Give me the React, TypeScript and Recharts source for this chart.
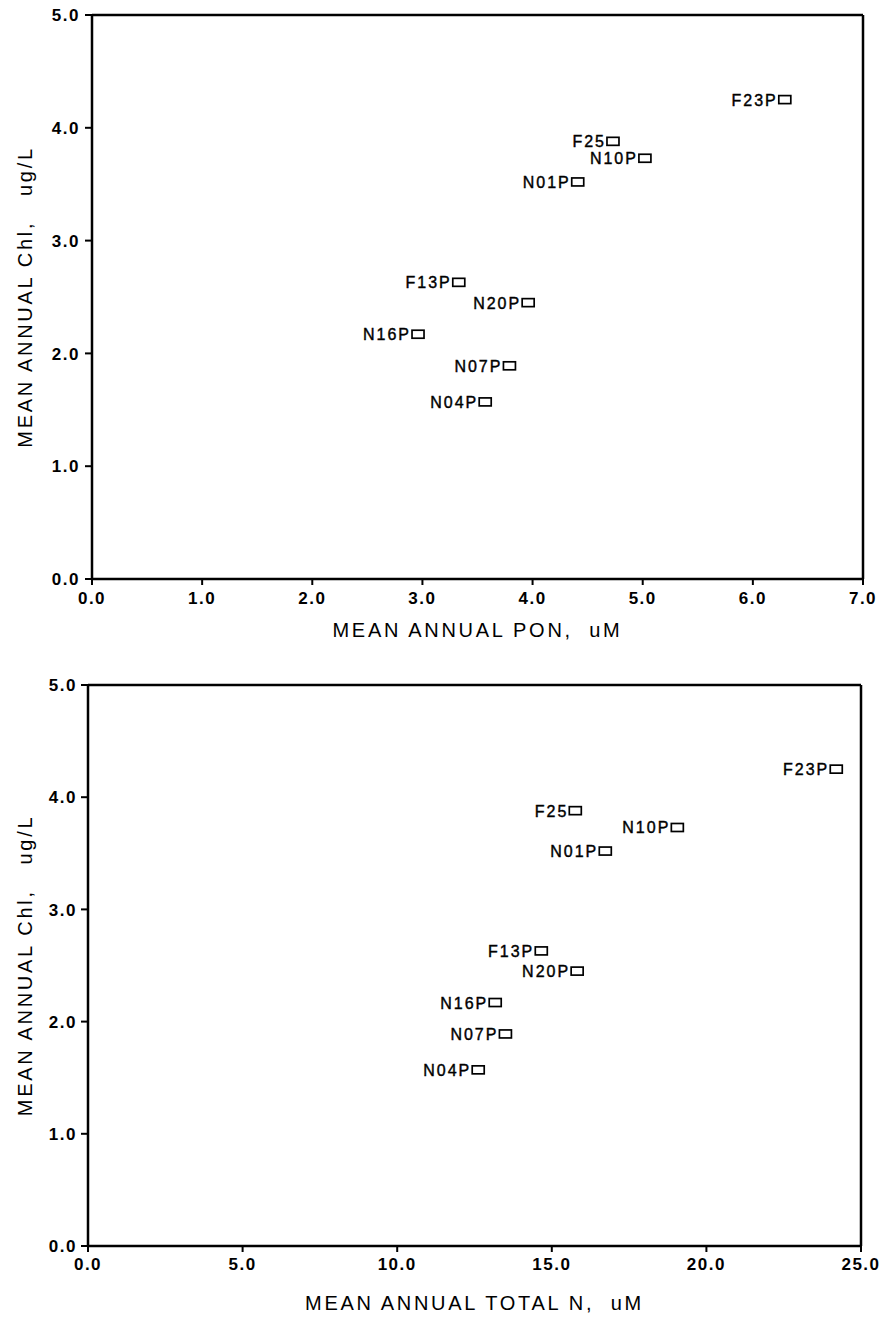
import React from 'react';
import { ScatterChart, Scatter, XAxis, YAxis, ReferenceLine } from 'recharts';

const stations = ['F23P', 'F25', 'N10P', 'N01P', 'F13P', 'N20P', 'N16P', 'N07P', 'N04P'];
const chl = [4.25, 3.88, 3.73, 3.52, 2.63, 2.45, 2.17, 1.89, 1.57];
const pon = [6.29, 4.73, 5.02, 4.41, 3.33, 3.96, 2.96, 3.79, 3.57];
const totalN = [24.2, 15.76, 19.06, 16.73, 14.66, 15.82, 13.17, 13.5, 12.62];

const ponTicks = [0, 1, 2, 3, 4, 5, 6, 7];
const totalNTicks = [0, 5, 10, 15, 20, 25];
const chlTicks = [0, 1, 2, 3, 4, 5];

const ponData = stations.map((name, i) => ({ name, x: pon[i], y: chl[i] }));
const totalNData = stations.map((name, i) => ({ name, x: totalN[i], y: chl[i] }));

const FONT = '"Liberation Sans", Arial, sans-serif';

const Marker = (props: any) => {
  const { cx, cy, payload } = props;
  return (
    <g>
      <text x={cx - 7} y={cy + 6} textAnchor="end" fontFamily={FONT} fontSize={16} letterSpacing={2} fill="#000" stroke="#000" strokeWidth={0.4}>
        {payload.name}
      </text>
      <rect x={cx - 6} y={cy - 4} width={12} height={8} fill="#fff" stroke="#000" strokeWidth={1.7} />
    </g>
  );
};

const XTick = (props: any) => (
  <text x={props.x} y={props.y} dy="0.71em" textAnchor="middle" fontFamily={FONT} fontSize={17} fontWeight="bold" letterSpacing={1.5} fill="#000">
    {Number(props.payload.value).toFixed(1)}
  </text>
);

const YTick = (props: any) => (
  <text x={props.x} y={props.y} dy="0.36em" textAnchor="end" fontFamily={FONT} fontSize={17} fontWeight="bold" letterSpacing={1.5} fill="#000">
    {Number(props.payload.value).toFixed(1)}
  </text>
);

const YTitle = (props: any) => {
  const { viewBox } = props;
  const cy = viewBox.y + viewBox.height / 2;
  return (
    <text x={25} y={cy} transform={`rotate(-90, 25, ${cy})`} textAnchor="middle" dominantBaseline="central" fontFamily={FONT} fontSize={20} letterSpacing={2.7} fill="#000" style={{ whiteSpace: 'pre' }}>
      {'MEAN ANNUAL Chl,   ug/L'}
    </text>
  );
};

const makeXTitle = (text: string, dy: number) => (props: any) => {
  const { viewBox } = props;
  return (
    <text x={viewBox.x + viewBox.width / 2} y={viewBox.y + dy} textAnchor="middle" dominantBaseline="central" fontFamily={FONT} fontSize={20} letterSpacing={2.7} fill="#000" style={{ whiteSpace: 'pre' }}>
      {text}
    </text>
  );
};

const axisLine = { stroke: '#000', strokeWidth: 2.5 };
const tickLine = { stroke: '#000', strokeWidth: 2 };

export default function App() {
  return (
    <div style={{ position: 'absolute', top: 0, left: 0, width: 883, height: 1319, background: '#fff' }}>
      <ScatterChart width={883} height={660} margin={{ top: 15, right: 20, bottom: 21, left: 32 }}>
        <XAxis type="number" dataKey="x" domain={[0, 7]} ticks={ponTicks} tick={<XTick />} tickSize={6} tickMargin={7}
          axisLine={axisLine} tickLine={tickLine} height={60} label={{ content: makeXTitle('MEAN ANNUAL PON,  uM', 51) }} />
        <YAxis type="number" dataKey="y" domain={[0, 5]} ticks={chlTicks} tick={<YTick />} tickSize={7} tickMargin={5}
          axisLine={axisLine} tickLine={tickLine} width={60} label={{ content: YTitle }} />
        <ReferenceLine y={5} stroke="#000" strokeWidth={2.5} />
        <ReferenceLine x={7} stroke="#000" strokeWidth={2.5} />
        <Scatter data={ponData} shape={(p: any) => <Marker {...p} />} isAnimationActive={false} />
      </ScatterChart>
      <ScatterChart width={883} height={659} margin={{ top: 25, right: 22, bottom: 13, left: 28 }}>
        <XAxis type="number" dataKey="x" domain={[0, 25]} ticks={totalNTicks} tick={<XTick />} tickSize={6} tickMargin={6}
          axisLine={axisLine} tickLine={tickLine} height={60} label={{ content: makeXTitle('MEAN ANNUAL TOTAL N,  uM', 57) }} />
        <YAxis type="number" dataKey="y" domain={[0, 5]} ticks={chlTicks} tick={<YTick />} tickSize={7} tickMargin={4}
          axisLine={axisLine} tickLine={tickLine} width={60} label={{ content: YTitle }} />
        <ReferenceLine y={5} stroke="#000" strokeWidth={2.5} />
        <ReferenceLine x={25} stroke="#000" strokeWidth={2.5} />
        <Scatter data={totalNData} shape={(p: any) => <Marker {...p} />} isAnimationActive={false} />
      </ScatterChart>
    </div>
  );
}
